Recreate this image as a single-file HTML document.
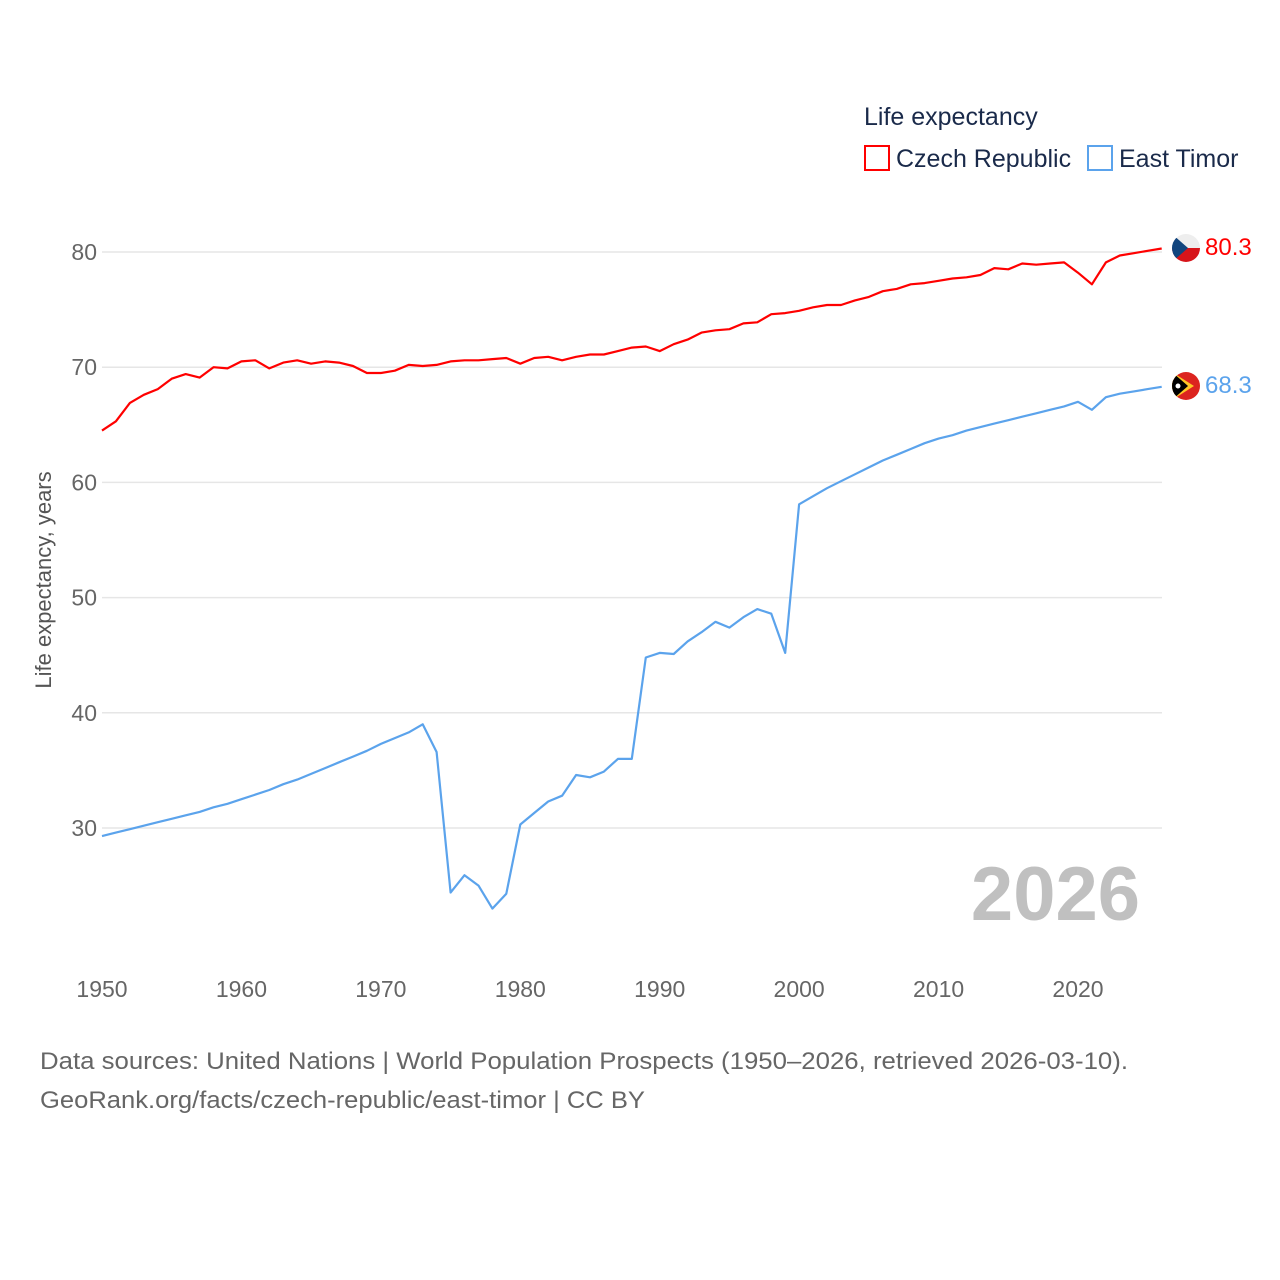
<!DOCTYPE html>
<html><head><meta charset="utf-8"><style>
body{margin:0;background:#fff;font-family:"Liberation Sans",sans-serif}
svg{display:block}
text{font-family:"Liberation Sans",sans-serif}
</style></head><body>
<svg id="chart" width="1280" height="1280">
<text x="864" y="125" font-size="25" fill="#1a2a4a">Life expectancy</text>
<g><rect x="865" y="146" width="24" height="24" fill="none" stroke="#ff0000" stroke-width="2"/><text x="896" y="167" font-size="25" fill="#1a2a4a">Czech Republic</text></g>
<g><rect x="1088" y="146" width="24" height="24" fill="none" stroke="#5ba3ec" stroke-width="2"/><text x="1119" y="167" font-size="25" fill="#1a2a4a">East Timor</text></g>
<g id="grid"></g><g id="xt"></g><g id="series"></g>
<text transform="translate(51,580) rotate(-90)" text-anchor="middle" font-size="22" fill="#555">Life expectancy, years</text>
<text x="1140" y="920" text-anchor="end" font-size="76" font-weight="bold" fill="#c0c0c0">2026</text>
<text x="40" y="1069" font-size="24" fill="#666" textLength="1088" lengthAdjust="spacingAndGlyphs">Data sources: United Nations | World Population Prospects (1950–2026, retrieved 2026-03-10).</text>
<text x="40" y="1108" font-size="24" fill="#666" textLength="605" lengthAdjust="spacingAndGlyphs">GeoRank.org/facts/czech-republic/east-timor | CC BY</text>
<defs><clipPath id="c1"><circle cx="1186" cy="248" r="14"/></clipPath><clipPath id="c2"><circle cx="1186" cy="386" r="14"/></clipPath></defs>
<g clip-path="url(#c1)"><rect x="1172" y="234" width="28" height="14" fill="#eee"/><rect x="1172" y="248" width="28" height="14" fill="#d7141a"/><polygon points="1172,234 1188,248 1172,262" fill="#11457e"/></g>
<g clip-path="url(#c2)"><rect x="1172" y="372" width="28" height="28" fill="#dc241f"/><polygon points="1172,372 1194,386 1172,400" fill="#ffc726"/><polygon points="1172,372 1188,386 1172,400" fill="#000"/><circle cx="1178" cy="386" r="2.5" fill="#fff"/></g>
<text x="1205" y="255" font-size="24" fill="#ff0000">80.3</text>
<text x="1205" y="393" font-size="24" fill="#5ba3ec">68.3</text>
</svg>
<script>
const years=[];for(let y=1950;y<=2026;y++)years.push(y);
const czech=[64.5,65.3,66.9,67.6,68.1,69.0,69.4,69.1,70.0,69.9,70.5,70.6,69.9,70.4,70.6,70.3,70.5,70.4,70.1,69.5,69.5,69.7,70.2,70.1,70.2,70.5,70.6,70.6,70.7,70.8,70.3,70.8,70.9,70.6,70.9,71.1,71.1,71.4,71.7,71.8,71.4,72.0,72.4,73.0,73.2,73.3,73.8,73.9,74.6,74.7,74.9,75.2,75.4,75.4,75.8,76.1,76.6,76.8,77.2,77.3,77.5,77.7,77.8,78.0,78.6,78.5,79.0,78.9,79.0,79.1,78.2,77.2,79.1,79.7,79.9,80.1,80.3];
const timor=[29.3,29.6,29.9,30.2,30.5,30.8,31.1,31.4,31.8,32.1,32.5,32.9,33.3,33.8,34.2,34.7,35.2,35.7,36.2,36.7,37.3,37.8,38.3,39.0,36.6,24.4,25.9,25.0,23.0,24.3,30.3,31.3,32.3,32.8,34.6,34.4,34.9,36.0,36.0,44.8,45.2,45.1,46.2,47.0,47.9,47.4,48.3,49.0,48.6,45.2,58.1,58.8,59.5,60.1,60.7,61.3,61.9,62.4,62.9,63.4,63.8,64.1,64.5,64.8,65.1,65.4,65.7,66.0,66.3,66.6,67.0,66.3,67.4,67.7,67.9,68.1,68.3];
const yTicks=[30,40,50,60,70,80];
const xTicks=[1950,1960,1970,1980,1990,2000,2010,2020];
const X=y=>102+(y-1950)*976/70;
const Y=v=>252+(80-v)*11.52;
const NS="http://www.w3.org/2000/svg";
const grid=document.getElementById('grid'),xt=document.getElementById('xt'),ser=document.getElementById('series');
yTicks.forEach(t=>{
 const l=document.createElementNS(NS,'line');
 l.setAttribute('x1',102);l.setAttribute('x2',1162);l.setAttribute('y1',Y(t));l.setAttribute('y2',Y(t));
 l.setAttribute('stroke','#e6e6e6');l.setAttribute('stroke-width','1.5');
 
 
 grid.appendChild(l);
 const tx=document.createElementNS(NS,'text');
 tx.setAttribute('x',97);tx.setAttribute('y',Y(t)+8);tx.setAttribute('text-anchor','end');
 tx.setAttribute('font-size','23');tx.setAttribute('fill','#666');tx.textContent=t;
 
 
 grid.appendChild(tx);
});
xTicks.forEach(t=>{
 const tx=document.createElementNS(NS,'text');
 tx.setAttribute('x',X(t));tx.setAttribute('y',997);tx.setAttribute('text-anchor','middle');
 tx.setAttribute('font-size','23');tx.setAttribute('fill','#666');tx.textContent=t;
 
 
 xt.appendChild(tx);
});
function line(data,color,name){
 const p=document.createElementNS(NS,'polyline');
 p.setAttribute('points',data.map((v,i)=>X(years[i]).toFixed(1)+','+Y(v).toFixed(1)).join(' '));
 p.setAttribute('fill','none');p.setAttribute('stroke',color);p.setAttribute('stroke-width','2.2');
 p.setAttribute('stroke-linejoin','round');
 
 
 ser.appendChild(p);
}
line(czech,'#ff0000','czech-republic-line');
line(timor,'#5ba3ec','east-timor-line');
</script>
</body></html>
